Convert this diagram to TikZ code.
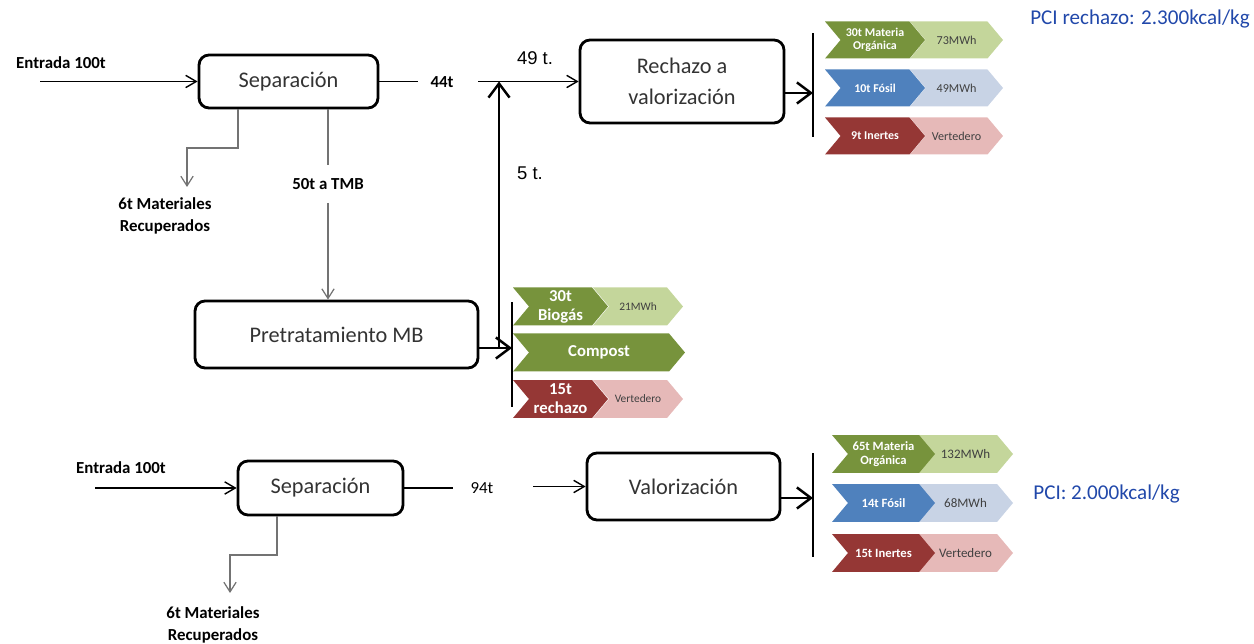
\documentclass[tikz,border=0pt]{standalone}
\usepackage{fontspec}
\setmainfont{Carlito}
\newfontfamily\arialfont{Liberation Sans}
\usetikzlibrary{positioning, shapes.symbols, arrows.meta, calc}

\definecolor{chevgreen}{RGB}{119,147,60}
\definecolor{chevgreenl}{RGB}{196,214,155}
\definecolor{chevblue}{RGB}{79,129,189}
\definecolor{chevbluel}{RGB}{200,211,229}
\definecolor{chevred}{RGB}{149,55,53}
\definecolor{chevredl}{RGB}{230,185,184}
\definecolor{pciblue}{RGB}{33,72,170}

\begin{document}
\begin{tikzpicture}[
    x=0.02cm, y=-0.02cm, % one unit = one pixel of the layout, y down
    thinarrow/.style={
        -{Straight Barb[length=6pt,width=7pt]},
        line width=0.8pt
    },
    bigarrow/.style={
        -{Straight Barb[length=8pt,width=12pt]},
        line width=1.4pt
    },
    grayline/.style={
        line width=0.7pt,
        draw=black!55
    },
    grayarrow/.style={
        grayline,
        -{Straight Barb[length=5.5pt,width=7pt]}
    },
    block/.style={
        rectangle,
        rounded corners=2mm,
        draw,
        line width=1.6pt,
        inner sep=0pt,
        align=center,
        text=black!80,
        font=\fontsize{12.7}{18}\selectfont
    },
    tag/.style={
        inner sep=0pt,
        align=center,
        font=\bfseries\fontsize{9.6}{12.5}\selectfont
    },
    bar/.style={
        rectangle,
        draw,
        line width=1.6pt,
        minimum width=0pt,
        inner sep=0pt,
        outer sep=0pt
    },
    chev/.style={ % arrow-like band
        signal,
        signal from=west,
        signal to=east,
        signal pointer angle=100,
        inner sep=0pt,
        outer sep=0pt,
        align=center
    },
    chevdark/.style={
        chev,
        text=white,
        font=\bfseries\fontsize{6.8}{7.6}\selectfont
    },
    chevlight/.style={
        chev,
        text=black!75,
        font=\fontsize{6.9}{8}\selectfont
    },
    pci/.style={
        inner sep=0pt,
        text=pciblue,
        font=\fontsize{12}{14}\selectfont
    }
]
    \useasboundingbox (0,0) rectangle (1254,644);

    % Upper line: separation
    \node[tag] (in1lbl) at (61,63) {Entrada 100t};
    \coordinate (in1) at (40,81.5);
    \node[block, minimum width=3.58cm, minimum height=1.06cm] (sep1) at (288.5,81.5) {Separación};
    \draw[thinarrow] (in1) -- (sep1.west);

    \node[tag] (l44) at (442,82) {44t};
    \coordinate (c44a) at (418,81.5);
    \coordinate (c44b) at (478,81.5);
    \draw[line width=0.8pt] (sep1.east) -- (c44a);

    % Rejected fraction
    \node[block, minimum width=4.08cm, minimum height=1.66cm] (rech) at (682,81.5) {Rechazo a\\valorización};
    \draw[thinarrow] (c44b) -- (rech.west);
    \node[font=\arialfont\fontsize{10.5}{12}\selectfont, inner sep=0pt] (l49) at (535,58) {49 t.};
    \node[font=\arialfont\fontsize{10.5}{12}\selectfont, inner sep=0pt] (l5) at (530,173) {5 t.};

    % Recovered materials
    \coordinate (m1tip) at (187,187);
    \node[tag] (mat1) at (165,216) {6t Materiales\\Recuperados};
    \draw[grayarrow] ($(sep1.south)+(-50.5,0)$) |- ($(m1tip)+(0,-39)$) -- (m1tip);

    % To MBT
    \node[tag, minimum height=0.74cm] (l50) at (328,184) {50t a TMB};
    \node[block, minimum width=5.66cm, minimum height=1.34cm] (pre) at (336.5,334.5) {Pretratamiento MB};
    \draw[grayline] (sep1.south -| l50) -- (l50.north);
    \draw[grayarrow] (l50.south) -- (pre.north -| l50);

    % Chevrons, rejected fraction
    \node[chevlight, fill=chevgreenl, minimum width=1.86cm, minimum height=0.74cm] (r1b) at (956.5,40) {73MWh};
    \node[chevdark, fill=chevgreen, minimum width=2cm, minimum height=0.74cm] (r1a) at (875,40) {30t Materia\\Orgánica};
    \node[chevlight, fill=chevbluel, minimum width=1.86cm, minimum height=0.74cm] (r2b) at (956.5,88) {49MWh};
    \node[chevdark, fill=chevblue, minimum width=2cm, minimum height=0.74cm] (r2a) at (875,88) {10t Fósil};
    \node[chevlight, fill=chevredl, minimum width=1.86cm, minimum height=0.74cm] (r3b) at (956.5,136) {Vertedero};
    \node[chevdark, fill=chevred, minimum width=2cm, minimum height=0.74cm] (r3a) at (875,136) {9t Inertes};
    \node[bar, minimum height=2.08cm] (bar1) at (813,85) {};
    \draw[bigarrow] ($(rech.east)+(0,11.5)$) coordinate (r0) -- (r0 -| bar1.west);

    \node[pci, anchor=east] (pci1) at (1250,19) {PCI rechazo: 2.300kcal/kg};

    % Chevrons, MBT
    \node[chevlight, fill=chevgreenl, minimum width=1.8cm, minimum height=0.76cm, font=\fontsize{6.5}{8}\selectfont] (p1b) at (638,306.5) {21MWh};
    \node[chevdark, fill=chevgreen, minimum width=1.9cm, minimum height=0.76cm, font=\bfseries\fontsize{9.5}{10.8}\selectfont] (p1a) at (560.5,306.5) {30t\\Biogás};
    \node[chevdark, fill=chevgreen, minimum width=3.44cm, minimum height=0.76cm, font=\bfseries\fontsize{9.5}{10.8}\selectfont] (p2) at (599,352.5) {Compost};
    \node[chevlight, fill=chevredl, minimum width=1.8cm, minimum height=0.76cm, font=\fontsize{6.5}{8}\selectfont] (p3b) at (638,399) {Vertedero};
    \node[chevdark, fill=chevred, minimum width=1.9cm, minimum height=0.76cm, font=\bfseries\fontsize{9.5}{10.8}\selectfont] (p3a) at (560.5,399) {15t\\rechazo};
    \node[bar, minimum height=2.1cm] (bar2) at (512,354.5) {};

    % 5 t. back to the rejected fraction
    \coordinate (split) at (499,348);
    \coordinate (merge) at (499,81.5);
    \draw[bigarrow] (pre.east |- split) -- (bar2.west |- split);
    \draw[bigarrow] (split) -- (merge);

    % Lower line
    \node[tag] (in2lbl) at (121,468) {Entrada 100t};
    \coordinate (in2) at (95,488);
    \node[block, minimum width=3.3cm, minimum height=1.08cm] (sep2) at (320.5,488) {Separación};
    \draw[thinarrow] (in2) -- (sep2.west);

    \node[tag, font=\fontsize{9.6}{12}\selectfont] (l94) at (482,488) {94t};
    \coordinate (c94a) at (453,488);
    \coordinate (c94b) at (533,486.5);
    \draw[line width=0.8pt] (sep2.east) -- (c94a);

    \node[block, minimum width=3.86cm, minimum height=1.34cm] (valo) at (683.5,486.5) {Valorización};
    \draw[thinarrow] (c94b) -- (valo.west);

    \coordinate (m2tip) at (230,593);
    \node[tag] (mat2) at (213,625) {6t Materiales\\Recuperados};
    \draw[grayarrow] ($(sep2.south)+(-43.5,0)$) |- ($(m2tip)+(0,-38)$) -- (m2tip);

    % Chevrons, recovery
    \node[chevlight, fill=chevgreenl, minimum width=1.9cm, minimum height=0.76cm, font=\fontsize{7.4}{8}\selectfont] (v1b) at (965.5,454) {132MWh};
    \node[chevdark, fill=chevgreen, minimum width=2.06cm, minimum height=0.76cm, font=\bfseries\fontsize{7.2}{8}\selectfont] (v1a) at (883.5,454) {65t Materia\\Orgánica};
    \node[chevlight, fill=chevbluel, minimum width=1.9cm, minimum height=0.76cm, font=\fontsize{7.4}{8}\selectfont] (v2b) at (965.5,503) {68MWh};
    \node[chevdark, fill=chevblue, minimum width=2.06cm, minimum height=0.76cm, font=\bfseries\fontsize{7.2}{8}\selectfont] (v2a) at (883.5,503) {14t Fósil};
    \node[chevlight, fill=chevredl, minimum width=1.9cm, minimum height=0.76cm, font=\fontsize{7.4}{8}\selectfont] (v3b) at (965.5,553) {Vertedero};
    \node[chevdark, fill=chevred, minimum width=2.06cm, minimum height=0.76cm, font=\bfseries\fontsize{7.2}{8}\selectfont] (v3a) at (883.5,553) {15t Inertes};
    \node[bar, minimum height=2.08cm] (bar3) at (813,505) {};
    \draw[bigarrow] ($(valo.east)+(0,11.5)$) coordinate (v0) -- (v0 -| bar3.west);

    \node[pci, anchor=west] (pci2) at (1033,494) {PCI: 2.000kcal/kg};
\end{tikzpicture}
\end{document}
